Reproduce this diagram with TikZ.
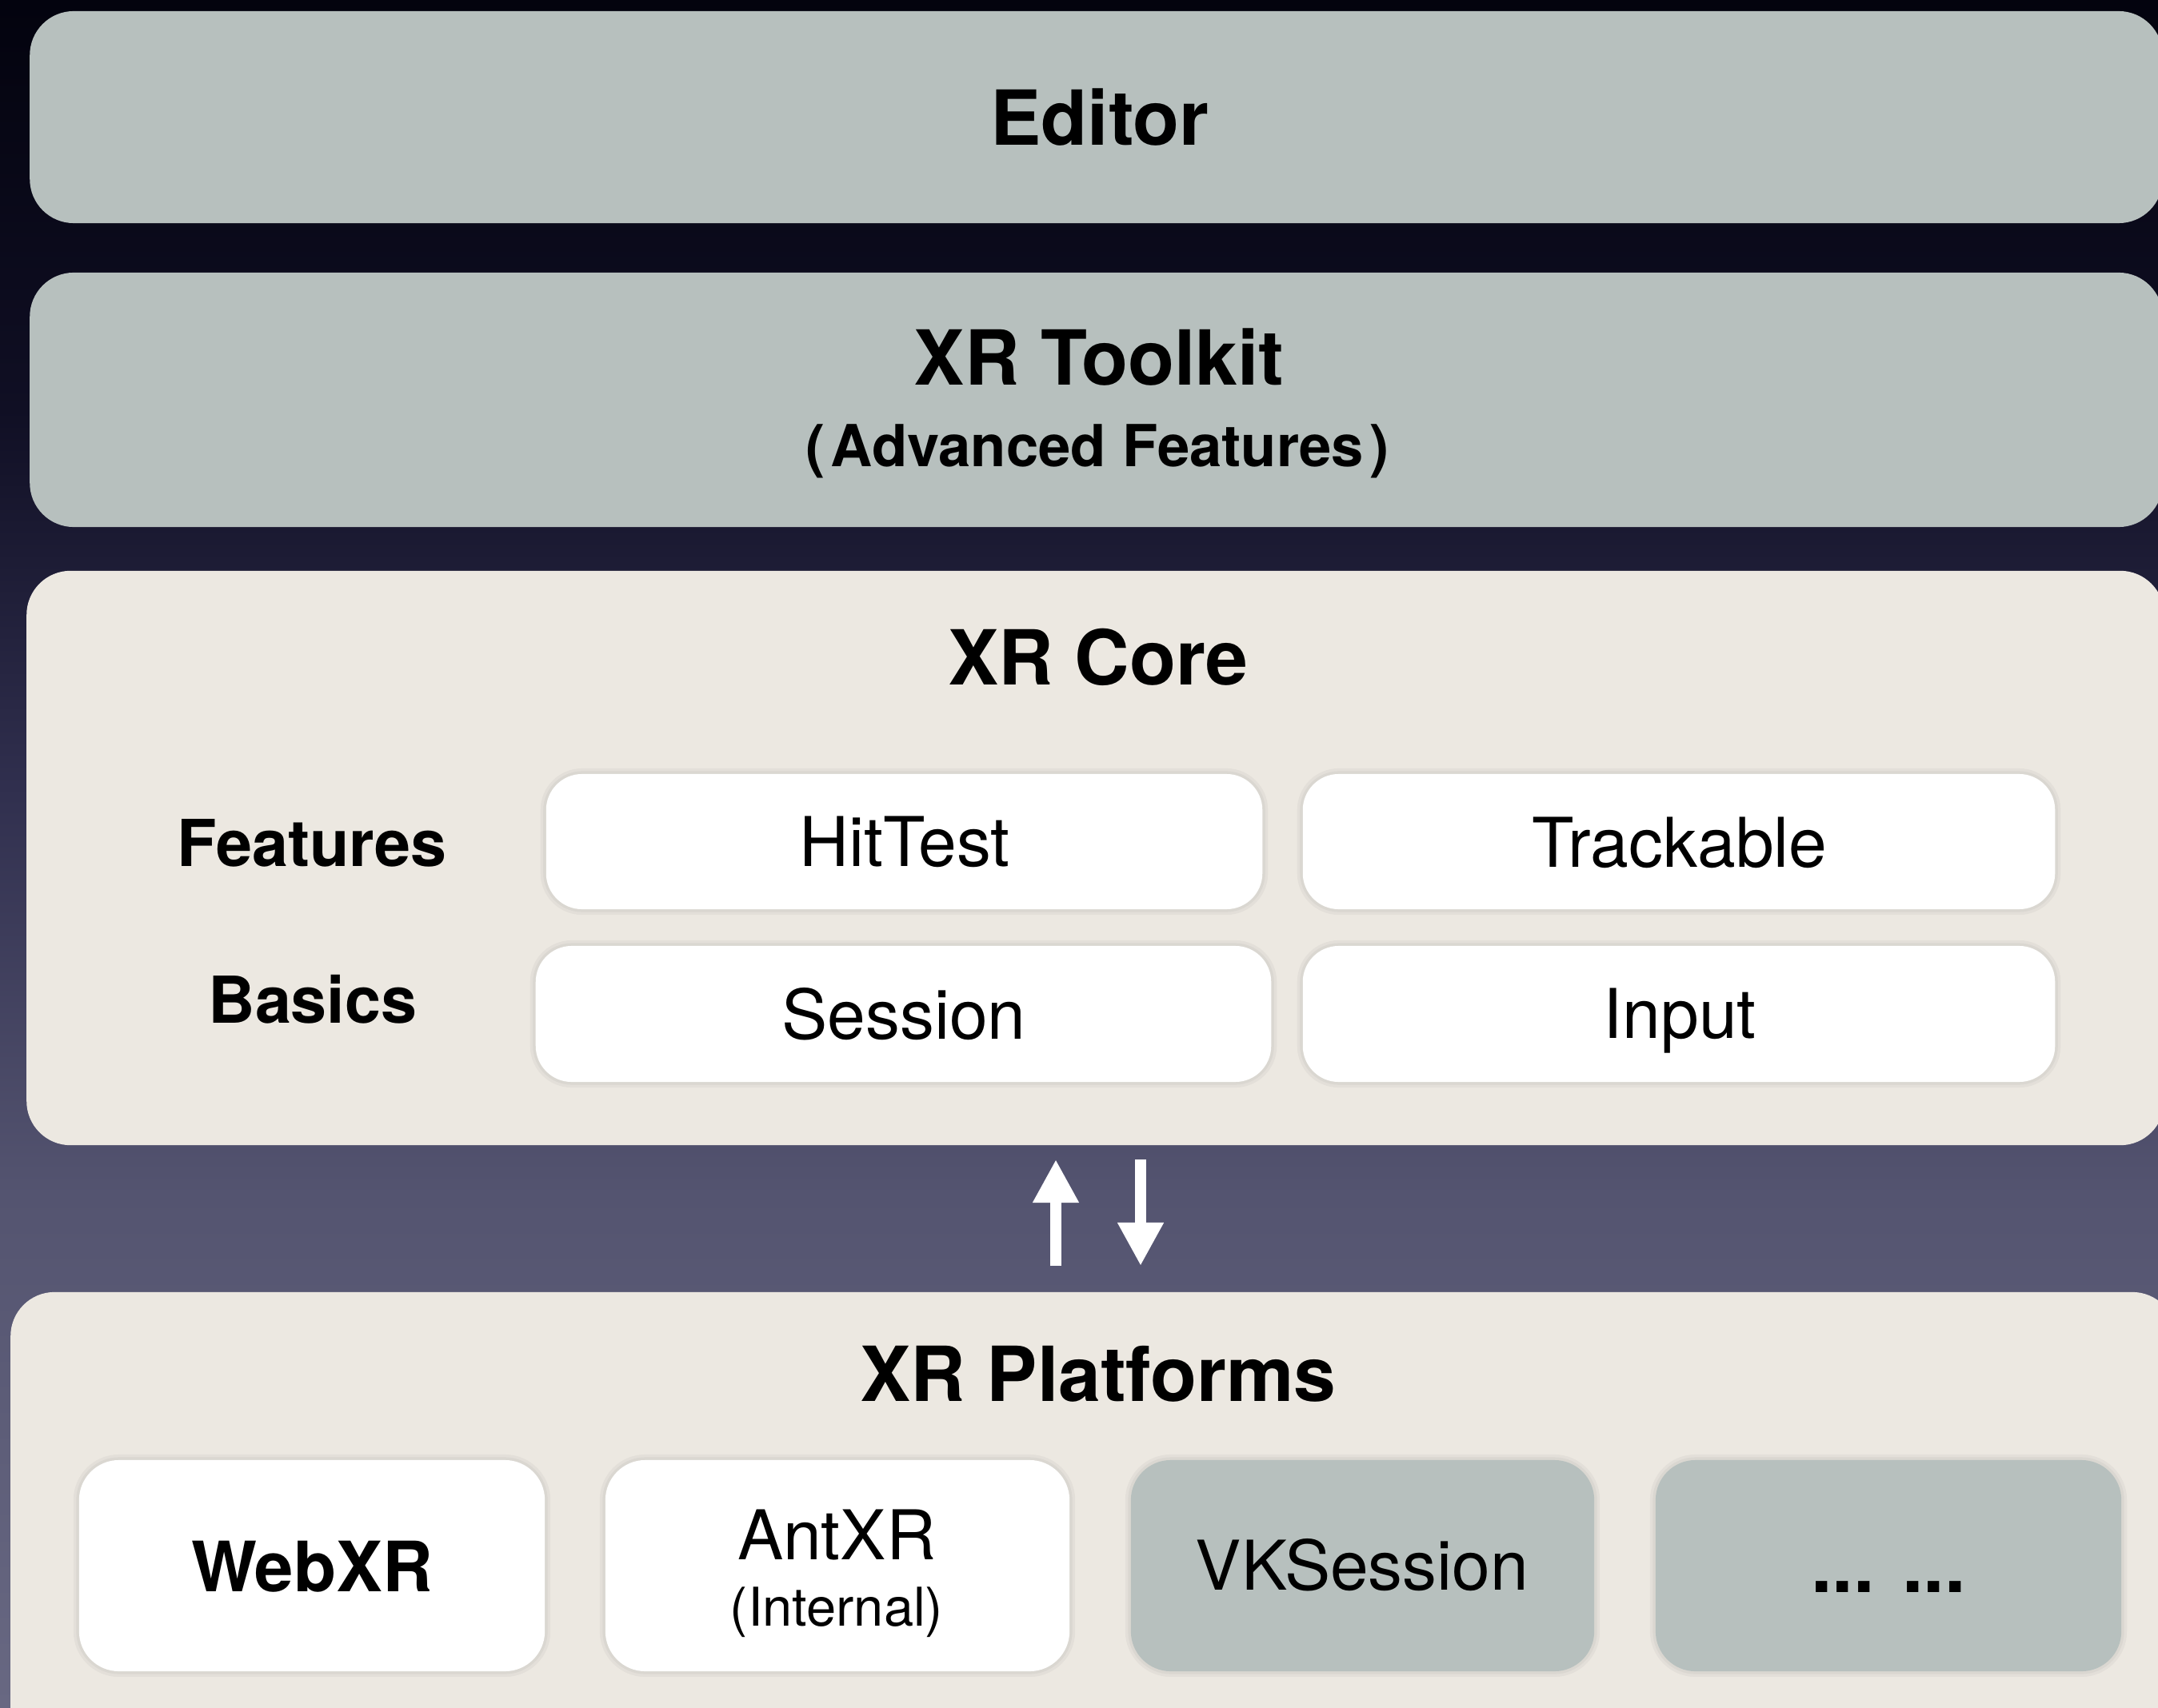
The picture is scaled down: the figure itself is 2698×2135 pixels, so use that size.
\documentclass[tikz,border=0pt]{standalone}
\usepackage{fontspec}
\setmainfont{TeX Gyre Heros}
\usetikzlibrary{arrows.meta}
\definecolor{boxgray}{RGB}{183,192,190}
\definecolor{cream}{RGB}{236,232,225}
\definecolor{bgA}{RGB}{104,104,130}
\definecolor{bgB}{RGB}{84,84,112}
\definecolor{bgC}{RGB}{48,47,78}
\definecolor{bgD}{RGB}{16,15,36}
\definecolor{bgE}{RGB}{3,3,14}
\pgfdeclareverticalshading{bgshade}{100bp}{color(0bp)=(bgA); color(25bp)=(bgA); color(40bp)=(bgB); color(52bp)=(bgC); color(63bp)=(bgD); color(75bp)=(bgE); color(100bp)=(bgE)}
\tikzset{
  layerbox/.style={rounded corners=0.55cm, inner sep=0pt, draw=none},
  softshadow/.style={preaction={draw=black, draw opacity=0.035, line width=4pt},
    preaction={draw=black, draw opacity=0.035, line width=2pt}},
  innerbox/.style={rounded corners=0.45cm, inner sep=0pt, fill=white, softshadow},
  platbox/.style={rounded corners=0.5cm, inner sep=0pt, softshadow},
  title/.style={anchor=base, inner sep=0pt, font=\fontsize{27}{32}\selectfont\bfseries},
  sub/.style={anchor=base, inner sep=0pt, font=\fontsize{20.6}{24}\selectfont\bfseries},
  rowlabel/.style={anchor=base, inner sep=0pt, font=\fontsize{23}{28}\selectfont\bfseries},
  light/.style={anchor=base, inner sep=0pt, font=\fontsize{24.4}{29}\selectfont},
  arrowline/.style={draw=white, line width=0.14cm, -{Triangle[length=0.54cm, width=0.54cm]}}
}
\begin{document}
\begin{tikzpicture}[x=0.01cm, y=0.01cm]
\useasboundingbox (0,0) rectangle (2698,2135);
\begin{scope}
\clip (0,0) rectangle (2698,2135);
\shade[shading=bgshade] (0,0) rectangle (2698,2135);

% layers
\node[layerbox, fill=boxgray, minimum width=26.65cm, minimum height=2.65cm] (editor) at (1370.5,1988.5) {};
\node[layerbox, fill=boxgray, minimum width=26.65cm, minimum height=3.18cm] (toolkit) at (1370.5,1635) {};
\node[layerbox, fill=cream, minimum width=26.71cm, minimum height=7.18cm] (core) at (1369.5,1062) {};
\node[layerbox, fill=cream, minimum width=27.06cm, minimum height=5.99cm] (platforms) at (1367,219.5) {};

% core boxes
\node[innerbox, minimum width=8.95cm, minimum height=1.69cm] (hittest) at (1130.5,1082.5) {};
\node[innerbox, minimum width=9.40cm, minimum height=1.69cm] (trackable) at (2099,1082.5) {};
\node[innerbox, minimum width=9.19cm, minimum height=1.70cm] (session) at (1129.5,867) {};
\node[innerbox, minimum width=9.40cm, minimum height=1.70cm] (input) at (2099,867) {};

% platform boxes
\node[platbox, fill=white, minimum width=5.82cm, minimum height=2.64cm] (webxr) at (390,177) {};
\node[platbox, fill=white, minimum width=5.80cm, minimum height=2.64cm] (antxr) at (1047,177) {};
\node[platbox, fill=boxgray, minimum width=5.79cm, minimum height=2.64cm] (vk) at (1703.5,177) {};
\node[platbox, fill=boxgray, minimum width=5.82cm, minimum height=2.64cm] (more) at (2361,177) {};

% texts
\node[title] (editorT) at (1375,1953) {Editor};
\node[title] (toolkitT) at (1374,1653) {XR Toolkit};
\node[sub] (toolkitS) at (1372,1551) {(\hspace{2pt}Advanced Features\hspace{2pt})};
\node[title] (coreT) at (1373,1278) {XR Core};
\node[rowlabel] (featT) at (390,1052) {Features};
\node[rowlabel] (basT) at (391,856) {Basics};
\node[light] (hittestT) at (1131,1052) {HitTest};
\node[light] (trackT) at (2100,1051) {Trackable};
\node[light] (sessT) at (1130,836) {Session};
\node[light] (inputT) at (2100,837) {Input};
\node[title] (platT) at (1373,383) {XR Platforms};
\node[anchor=base, inner sep=0pt, font=\fontsize{24.7}{30}\selectfont\bfseries] (webxrT) at (390,145) {WebXR};
\node[light] (antxrT) at (1046,185) {AntXR};
\node[anchor=base, inner sep=0pt, font=\fontsize{19}{23}\selectfont] (antxrS) at (1046,102) {(Internal)};
\node[light] (vkT) at (1703,147) {VKSession};
\node[anchor=base, inner sep=0pt, font=\fontsize{27}{32}\selectfont\bfseries] (moreT) at (2361,144) {... ...};

% arrows
\coordinate (upS) at (1320,552);
\coordinate (upE) at (1320,685);
\coordinate (dnS) at (1426,685);
\coordinate (dnE) at (1426,552);
\draw[arrowline] (upS) -- (upE);
\draw[arrowline] (dnS) -- (dnE);
\end{scope}
\end{tikzpicture}
\end{document}
